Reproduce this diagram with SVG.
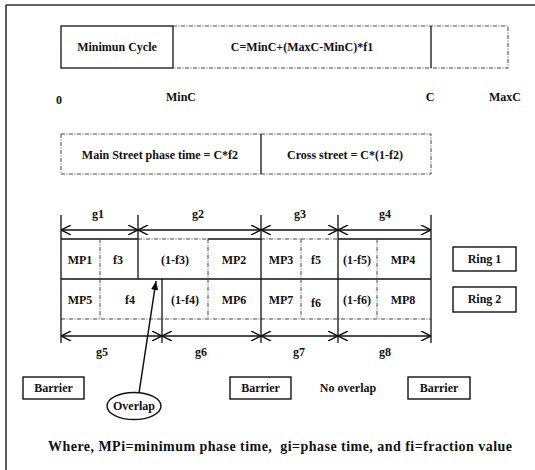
<svg xmlns="http://www.w3.org/2000/svg" width="535" height="470" viewBox="0 0 535 470">
<defs>
<style>
text{font-family:"Liberation Serif","Times New Roman",serif;font-weight:bold;font-size:12px;fill:#111;text-anchor:middle}
.s{stroke:#111;stroke-width:1.3;fill:none}
.d{stroke:#444;stroke-width:1;fill:none;stroke-dasharray:4,1.5,1,1.5}
.b{stroke:#111;stroke-width:1.4;fill:#fff}
.arr{stroke:#111;stroke-width:1.4;fill:none;marker-start:url(#oa);marker-end:url(#oa)}
</style>
<marker id="oa" viewBox="0 0 10 10" refX="10" refY="5" markerWidth="10" markerHeight="10" markerUnits="userSpaceOnUse" orient="auto-start-reverse">
<path d="M0,0 L10,5 L0,10" fill="none" stroke="#111" stroke-width="1.4"/>
</marker>
<marker id="fa" viewBox="0 0 10 10" refX="10" refY="5" markerWidth="9" markerHeight="9" markerUnits="userSpaceOnUse" orient="auto">
<path d="M0,1 L10,5 L0,9 Z" fill="#111"/>
</marker>
</defs>
<rect width="535" height="470" fill="#fff"/>
<g id="frame">
<path d="M6,5 H535 M6,5 V470" stroke="#333" stroke-width="1.6" fill="none"/>
</g>
<g id="cycle-bar">
<rect x="61" y="26" width="112" height="42" class="s"/>
<path d="M173,26 H508 V68 H173" class="d"/>
<path d="M431,26 V68" class="s" stroke-width="1.8"/>
<text x="117" y="51">Minimun Cycle</text>
<text x="302" y="51">C=MinC+(MaxC-MinC)*f1</text>
</g>
<g id="axis-labels">
<text x="59" y="104">0</text>
<text x="181" y="101">MinC</text>
<text x="430" y="101">C</text>
<text x="505" y="101">MaxC</text>
</g>
<g id="split-bar">
<rect x="61" y="134" width="370" height="40" class="d"/>
<path d="M261,134 V174" class="s" stroke-width="1.6"/>
<text x="160" y="159">Main Street phase time = C*f2</text>
<text x="345" y="159">Cross street = C*(1-f2)</text>
</g>
<g id="grid">
<path d="M61,239 H138 M208,239 H261 M338,239 H431 M61,279 H431" class="s"/>
<path d="M138,239 H208 M261,239 H338 M61,319 H431 M100,239 V319 M208,239 V319 M301,239 V319 M377,239 V319" class="d"/>
<path d="M61,215 V343 M138,215 V279 M162,279 V343 M261,215 V343 M338,215 V343 M431,215 V343" class="s"/>
</g>
<g id="connectors">
<path d="M61,230 H138" class="arr"/>
<path d="M138,230 H261" class="arr"/>
<path d="M261,230 H338" class="arr"/>
<path d="M338,230 H431" class="arr"/>
<path d="M61,336 H162" class="arr"/>
<path d="M162,336 H261" class="arr"/>
<path d="M261,336 H338" class="arr"/>
<path d="M338,336 H431" class="arr"/>
<path d="M139,393 L156,281" stroke="#111" stroke-width="1.5" fill="none" marker-end="url(#fa)"/>
</g>
<g id="g-labels">
<text x="98" y="218">g1</text>
<text x="198" y="218">g2</text>
<text x="300" y="218">g3</text>
<text x="385" y="218">g4</text>
<text x="102" y="356">g5</text>
<text x="201" y="356">g6</text>
<text x="299" y="356">g7</text>
<text x="385" y="356">g8</text>
</g>
<g id="ring1-cells">
<text x="80" y="264">MP1</text>
<text x="118" y="264">f3</text>
<text x="175" y="264">(1-f3)</text>
<text x="234" y="264">MP2</text>
<text x="281" y="264">MP3</text>
<text x="316" y="264">f5</text>
<text x="357" y="264">(1-f5)</text>
<text x="403" y="264">MP4</text>
</g>
<g id="ring2-cells">
<text x="80" y="304">MP5</text>
<text x="130" y="304">f4</text>
<text x="185" y="304">(1-f4)</text>
<text x="234" y="304">MP6</text>
<text x="281" y="304">MP7</text>
<text x="316" y="307">f6</text>
<text x="357" y="304">(1-f6)</text>
<text x="403" y="304">MP8</text>
</g>
<g id="ring1">
<rect x="453" y="247" width="63" height="24" class="b"/>
<text x="484.5" y="263">Ring 1</text>
</g>
<g id="ring2">
<rect x="453" y="287" width="63" height="25" class="b"/>
<text x="484.5" y="303">Ring 2</text>
</g>
<g id="barrier1">
<rect x="23" y="377" width="61" height="22" class="b"/>
<text x="53.5" y="392">Barrier</text>
</g>
<g id="barrier2">
<rect x="230" y="377" width="61" height="22" class="b"/>
<text x="260.5" y="392">Barrier</text>
</g>
<g id="barrier3">
<rect x="408" y="377" width="62" height="22" class="b"/>
<text x="439" y="392">Barrier</text>
</g>
<g id="no-overlap">
<text x="348" y="392">No overlap</text>
</g>
<g id="overlap">
<ellipse cx="134" cy="406" rx="27" ry="13.5" class="b"/>
<text x="134" y="410">Overlap</text>
</g>
<g id="legend">
<text x="48" y="451" style="text-anchor:start;font-size:14px" textLength="464" lengthAdjust="spacing" xml:space="preserve">Where, MPi=minimum phase time,  gi=phase time, and fi=fraction value</text>
</g>
</svg>
